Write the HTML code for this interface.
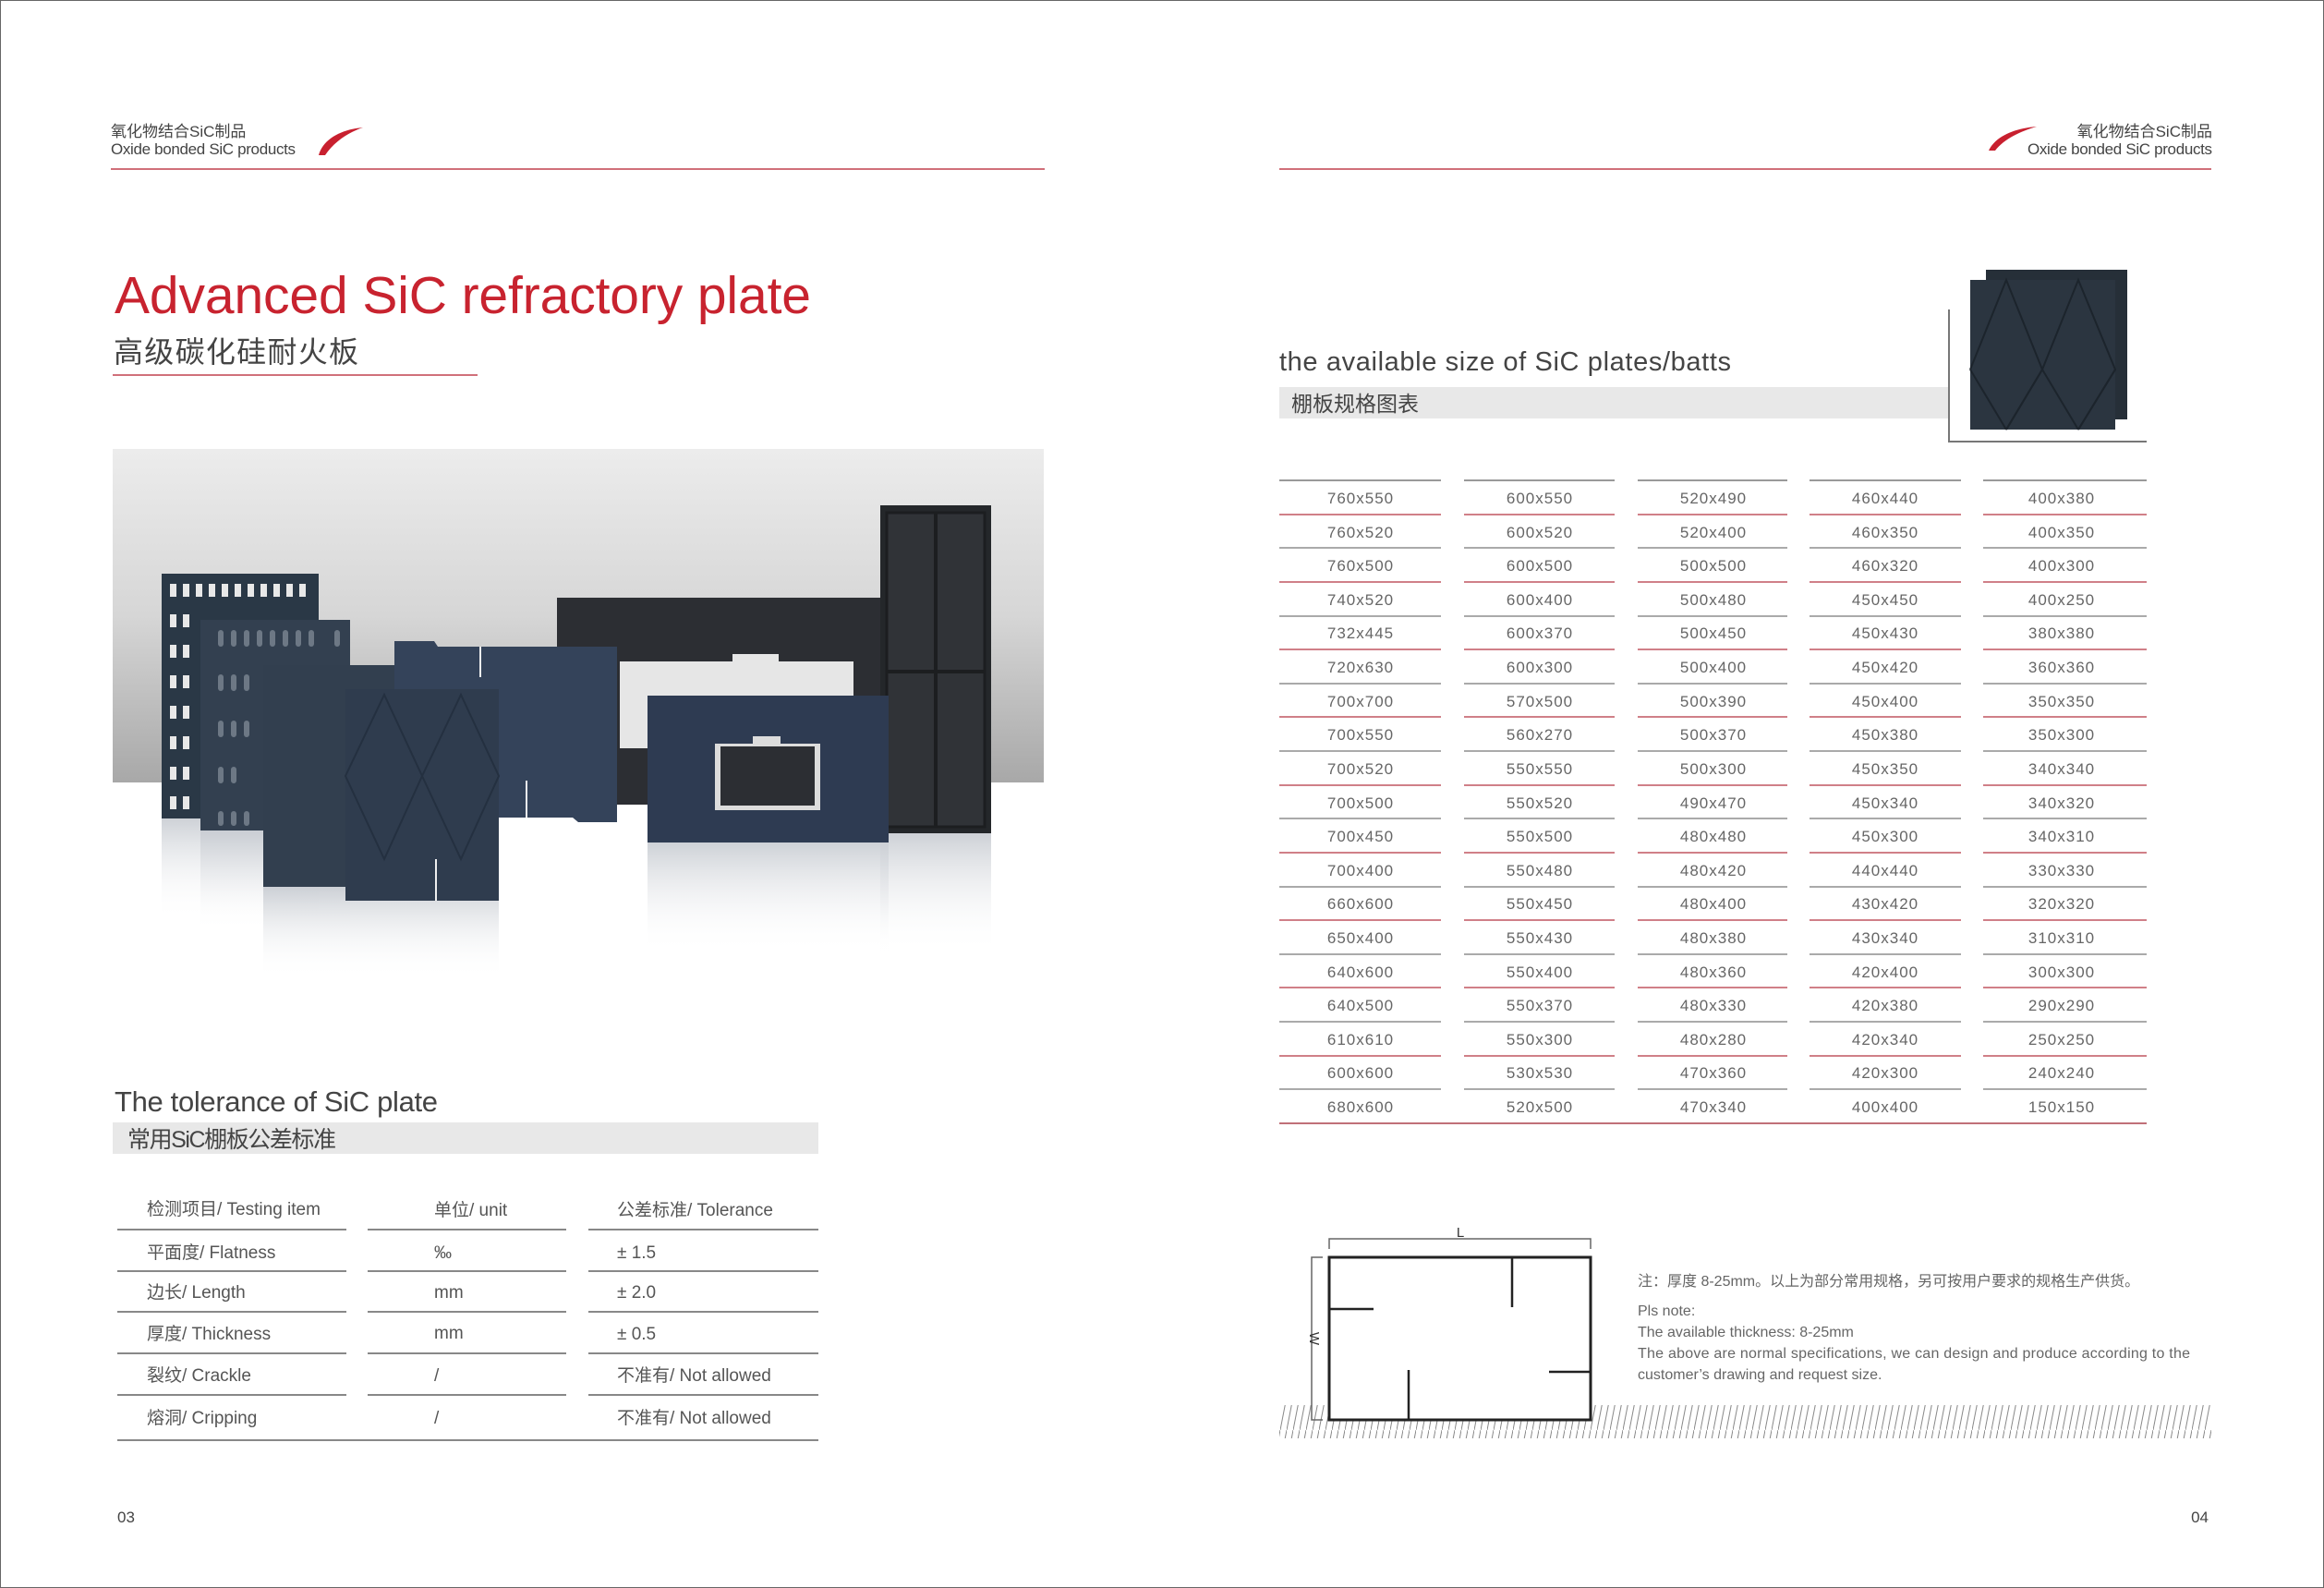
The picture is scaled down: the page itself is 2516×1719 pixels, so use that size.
<!DOCTYPE html>
<html><head><meta charset="utf-8"><style>
html,body{margin:0;padding:0;background:#fff}
svg{display:block}
text{font-family:"Liberation Sans","Noto Sans CJK SC",sans-serif}
</style></head><body>
<svg width="2516" height="1719" viewBox="0 0 2516 1719" xmlns="http://www.w3.org/2000/svg">
<defs>
<linearGradient id="band" x1="0" y1="0" x2="0" y2="1"><stop offset="0" stop-color="#ececec"/><stop offset="0.5" stop-color="#d6d6d6"/><stop offset="1" stop-color="#a8a8a8"/></linearGradient>
<linearGradient id="refl" x1="0" y1="0" x2="0" y2="1"><stop offset="0" stop-color="#c8ccd2" stop-opacity="0.9"/><stop offset="1" stop-color="#ffffff" stop-opacity="0"/></linearGradient>
<pattern id="hatch" width="7" height="36" patternUnits="userSpaceOnUse"><line x1="0" y1="36" x2="7" y2="0" stroke="#888" stroke-width="1"/></pattern>
</defs>
<rect x="0" y="0" width="2516" height="1719" fill="#fff" stroke="#666" stroke-width="2"/>

<!-- headers -->
<text x="120" y="148" font-size="17" fill="#444">氧化物结合SiC制品</text>
<text x="120" y="167" font-size="17" fill="#444" textLength="200">Oxide bonded SiC products</text>
<path d="M345,168 C350,150 370,140 393,138 C378,143 362,153 352,168 Z" fill="#c8202f"/>
<line x1="120" y1="183" x2="1131" y2="183" stroke="#d0707a" stroke-width="2"/>
<text x="2395" y="148" font-size="17" fill="#444" text-anchor="end">氧化物结合SiC制品</text>
<text x="2395" y="167" font-size="17" fill="#444" text-anchor="end" textLength="200">Oxide bonded SiC products</text>
<path d="M2153,163 C2160,148 2180,139 2205,137 C2188,142 2170,150 2160,163 Z" fill="#c8202f"/>
<line x1="1385" y1="183" x2="2394" y2="183" stroke="#d0707a" stroke-width="2"/>

<!-- title -->
<text x="124" y="339" font-size="57" fill="#c8232f" textLength="754">Advanced SiC refractory plate</text>
<text x="123" y="392" font-size="32" fill="#444" textLength="265">高级碳化硅耐火板</text>
<line x1="122" y1="406" x2="517" y2="406" stroke="#d0707a" stroke-width="2"/>

<!-- photo -->
<rect x="122" y="486" width="1008" height="361" fill="url(#band)"/>
<rect x="175" y="886" width="170" height="110" fill="url(#refl)"/>
<rect x="217" y="899" width="162" height="110" fill="url(#refl)"/>
<rect x="285" y="960" width="255" height="100" fill="url(#refl)"/>
<rect x="701" y="912" width="261" height="120" fill="url(#refl)"/>
<rect x="953" y="902" width="120" height="130" fill="url(#refl)"/>
<rect x="603" y="647" width="361" height="224" fill="#2c2e33"/>
<rect x="671" y="716" width="253" height="94" fill="#e6e6e6"/>
<rect x="793" y="708" width="50" height="10" fill="#e6e6e6"/>
<rect x="953" y="547" width="120" height="355" fill="#24272a"/>
<rect x="960" y="555" width="106" height="340" fill="#303337" stroke="#1c1e20" stroke-width="3"/>
<line x1="1013" y1="555" x2="1013" y2="895" stroke="#1c1e20" stroke-width="4"/>
<line x1="960" y1="727" x2="1066" y2="727" stroke="#1c1e20" stroke-width="4"/>
<rect x="175" y="621" width="170" height="265" fill="#2a3846"/>
<g fill="#e8e8e8">
<rect x="184" y="632" width="7" height="14"/><rect x="198" y="632" width="7" height="14"/><rect x="212" y="632" width="7" height="14"/><rect x="226" y="632" width="7" height="14"/><rect x="240" y="632" width="7" height="14"/><rect x="254" y="632" width="7" height="14"/><rect x="268" y="632" width="7" height="14"/><rect x="282" y="632" width="7" height="14"/><rect x="296" y="632" width="7" height="14"/><rect x="310" y="632" width="7" height="14"/><rect x="324" y="632" width="7" height="14"/>
<rect x="184" y="665" width="7" height="14"/><rect x="198" y="665" width="7" height="14"/>
<rect x="184" y="698" width="7" height="14"/><rect x="198" y="698" width="7" height="14"/>
<rect x="184" y="731" width="7" height="14"/><rect x="198" y="731" width="7" height="14"/>
<rect x="184" y="764" width="7" height="14"/><rect x="198" y="764" width="7" height="14"/>
<rect x="184" y="797" width="7" height="14"/><rect x="198" y="797" width="7" height="14"/>
<rect x="184" y="830" width="7" height="14"/><rect x="198" y="830" width="7" height="14"/>
<rect x="184" y="862" width="7" height="14"/><rect x="198" y="862" width="7" height="14"/>
</g>
<rect x="217" y="671" width="162" height="228" fill="#334050"/>
<g fill="#6d7885">
<rect x="236" y="682" width="6" height="18" rx="3"/><rect x="250" y="682" width="6" height="18" rx="3"/><rect x="264" y="682" width="6" height="18" rx="3"/><rect x="278" y="682" width="6" height="18" rx="3"/><rect x="292" y="682" width="6" height="18" rx="3"/><rect x="306" y="682" width="6" height="18" rx="3"/><rect x="320" y="682" width="6" height="18" rx="3"/><rect x="334" y="682" width="6" height="18" rx="3"/><rect x="362" y="682" width="6" height="18" rx="3"/>
<rect x="236" y="730" width="6" height="18" rx="3"/><rect x="250" y="730" width="6" height="18" rx="3"/><rect x="264" y="730" width="6" height="18" rx="3"/>
<rect x="236" y="780" width="6" height="18" rx="3"/><rect x="250" y="780" width="6" height="18" rx="3"/><rect x="264" y="780" width="6" height="18" rx="3"/>
<rect x="236" y="830" width="6" height="18" rx="3"/><rect x="250" y="830" width="6" height="18" rx="3"/>
<rect x="236" y="878" width="6" height="16" rx="3"/><rect x="250" y="878" width="6" height="16" rx="3"/><rect x="264" y="878" width="6" height="16" rx="3"/>
</g>
<path d="M427,694 L470,694 L474,700 L668,700 L668,890 L626,890 L620,885 L427,885 Z" fill="#34435a"/>
<line x1="520" y1="700" x2="520" y2="733" stroke="#eee" stroke-width="2"/>
<line x1="570" y1="845" x2="570" y2="885" stroke="#eee" stroke-width="2"/>
<rect x="285" y="720" width="142" height="240" fill="#323f4f"/>
<rect x="374" y="746" width="166" height="229" fill="#2f3c4e"/>
<g stroke="#243040" stroke-width="2" fill="none">
<path d="M374,840 L416,752 L457,840 L416,930 Z"/><path d="M457,840 L499,752 L540,840 L499,930 Z"/>
</g>
<line x1="472" y1="930" x2="472" y2="975" stroke="#eee" stroke-width="2"/>
<rect x="701" y="753" width="261" height="159" fill="#2e3b52"/>
<rect x="774" y="805" width="114" height="72" fill="#dcdcdc"/>
<rect x="780" y="808" width="102" height="64" fill="#2c2e33"/>
<rect x="815" y="797" width="30" height="9" fill="#dcdcdc"/>

<!-- tolerance -->
<text x="124" y="1203" font-size="31" fill="#444" textLength="350">The tolerance of SiC plate</text>
<rect x="122" y="1215" width="764" height="34" fill="#e8e8e8"/>
<text x="138" y="1242" font-size="25" fill="#444" textLength="226">常用SiC棚板公差标准</text>
<g font-size="19" fill="#555">
<text x="159" y="1315">检测项目/ Testing item</text><text x="470" y="1316">单位/ unit</text><text x="668" y="1316">公差标准/ Tolerance</text>
<text x="159" y="1362">平面度/ Flatness</text><text x="470" y="1362">‰</text><text x="668" y="1362">± 1.5</text>
<text x="159" y="1405">边长/ Length</text><text x="470" y="1405">mm</text><text x="668" y="1405">± 2.0</text>
<text x="159" y="1450">厚度/ Thickness</text><text x="470" y="1449">mm</text><text x="668" y="1450">± 0.5</text>
<text x="159" y="1495">裂纹/ Crackle</text><text x="470" y="1495">/</text><text x="668" y="1495">不准有/ Not allowed</text>
<text x="159" y="1541">熔洞/ Cripping</text><text x="470" y="1541">/</text><text x="668" y="1541">不准有/ Not allowed</text>
</g>
<g stroke="#888" stroke-width="2">
<path d="M127,1331H375M398,1331H613M637,1331H886"/>
<path d="M127,1376H375M398,1376H613M637,1376H886"/>
<path d="M127,1420H375M398,1420H613M637,1420H886"/>
<path d="M127,1465H375M398,1465H613M637,1465H886"/>
<path d="M127,1510H375M398,1510H613M637,1510H886"/>
<path d="M127,1559H886"/>
</g>
<text x="127" y="1648" font-size="17" fill="#444">03</text>
<text x="2391" y="1648" font-size="17" fill="#444" text-anchor="end">04</text>

<!-- right page -->
<text x="1385" y="401" font-size="29" fill="#444" textLength="489">the available size of SiC plates/batts</text>
<rect x="1385" y="419" width="725" height="34" fill="#e8e8e8"/>
<text x="1398" y="445" font-size="23" fill="#444" textLength="138">棚板规格图表</text>
<path d="M2110,335 V478 H2324" fill="none" stroke="#777" stroke-width="2"/>
<rect x="2150" y="292" width="153" height="162" fill="#262f38"/>
<rect x="2133" y="303" width="157" height="162" fill="#2b3540"/>
<g stroke="#1c242c" stroke-width="2" fill="none">
<path d="M2133,400 L2172,303 L2211,400 L2172,465"/><path d="M2211,400 L2250,303 L2290,400 L2250,465"/><path d="M2172,465 L2133,400"/><path d="M2250,465 L2211,400 L2172,465"/><path d="M2290,400 L2250,465"/>
</g>

<g font-size="17" fill="#666" text-anchor="middle" letter-spacing="1">
<text x="1473" y="545">760x550</text><text x="1667" y="545">600x550</text><text x="1855" y="545">520x490</text><text x="2041" y="545">460x440</text><text x="2232" y="545">400x380</text>
<text x="1473" y="582">760x520</text><text x="1667" y="582">600x520</text><text x="1855" y="582">520x400</text><text x="2041" y="582">460x350</text><text x="2232" y="582">400x350</text>
<text x="1473" y="618">760x500</text><text x="1667" y="618">600x500</text><text x="1855" y="618">500x500</text><text x="2041" y="618">460x320</text><text x="2232" y="618">400x300</text>
<text x="1473" y="655">740x520</text><text x="1667" y="655">600x400</text><text x="1855" y="655">500x480</text><text x="2041" y="655">450x450</text><text x="2232" y="655">400x250</text>
<text x="1473" y="691">732x445</text><text x="1667" y="691">600x370</text><text x="1855" y="691">500x450</text><text x="2041" y="691">450x430</text><text x="2232" y="691">380x380</text>
<text x="1473" y="728">720x630</text><text x="1667" y="728">600x300</text><text x="1855" y="728">500x400</text><text x="2041" y="728">450x420</text><text x="2232" y="728">360x360</text>
<text x="1473" y="765">700x700</text><text x="1667" y="765">570x500</text><text x="1855" y="765">500x390</text><text x="2041" y="765">450x400</text><text x="2232" y="765">350x350</text>
<text x="1473" y="801">700x550</text><text x="1667" y="801">560x270</text><text x="1855" y="801">500x370</text><text x="2041" y="801">450x380</text><text x="2232" y="801">350x300</text>
<text x="1473" y="838">700x520</text><text x="1667" y="838">550x550</text><text x="1855" y="838">500x300</text><text x="2041" y="838">450x350</text><text x="2232" y="838">340x340</text>
<text x="1473" y="875">700x500</text><text x="1667" y="875">550x520</text><text x="1855" y="875">490x470</text><text x="2041" y="875">450x340</text><text x="2232" y="875">340x320</text>
<text x="1473" y="911">700x450</text><text x="1667" y="911">550x500</text><text x="1855" y="911">480x480</text><text x="2041" y="911">450x300</text><text x="2232" y="911">340x310</text>
<text x="1473" y="948">700x400</text><text x="1667" y="948">550x480</text><text x="1855" y="948">480x420</text><text x="2041" y="948">440x440</text><text x="2232" y="948">330x330</text>
<text x="1473" y="984">660x600</text><text x="1667" y="984">550x450</text><text x="1855" y="984">480x400</text><text x="2041" y="984">430x420</text><text x="2232" y="984">320x320</text>
<text x="1473" y="1021">650x400</text><text x="1667" y="1021">550x430</text><text x="1855" y="1021">480x380</text><text x="2041" y="1021">430x340</text><text x="2232" y="1021">310x310</text>
<text x="1473" y="1058">640x600</text><text x="1667" y="1058">550x400</text><text x="1855" y="1058">480x360</text><text x="2041" y="1058">420x400</text><text x="2232" y="1058">300x300</text>
<text x="1473" y="1094">640x500</text><text x="1667" y="1094">550x370</text><text x="1855" y="1094">480x330</text><text x="2041" y="1094">420x380</text><text x="2232" y="1094">290x290</text>
<text x="1473" y="1131">610x610</text><text x="1667" y="1131">550x300</text><text x="1855" y="1131">480x280</text><text x="2041" y="1131">420x340</text><text x="2232" y="1131">250x250</text>
<text x="1473" y="1167">600x600</text><text x="1667" y="1167">530x530</text><text x="1855" y="1167">470x360</text><text x="2041" y="1167">420x300</text><text x="2232" y="1167">240x240</text>
<text x="1473" y="1204">680x600</text><text x="1667" y="1204">520x500</text><text x="1855" y="1204">470x340</text><text x="2041" y="1204">400x400</text><text x="2232" y="1204">150x150</text>
</g>
<g stroke-width="2" fill="none">
<path stroke="#999" d="M1385,520H1560M1585,520H1748M1773,520H1935M1959,520H2123M2147,520H2324"/>
<path stroke="#d08088" d="M1385,557H1560M1585,557H1748M1773,557H1935M1959,557H2123M2147,557H2324"/>
<path stroke="#aaa" d="M1385,593H1560M1585,593H1748M1773,593H1935M1959,593H2123M2147,593H2324"/>
<path stroke="#d08088" d="M1385,630H1560M1585,630H1748M1773,630H1935M1959,630H2123M2147,630H2324"/>
<path stroke="#aaa" d="M1385,667H1560M1585,667H1748M1773,667H1935M1959,667H2123M2147,667H2324"/>
<path stroke="#d08088" d="M1385,703H1560M1585,703H1748M1773,703H1935M1959,703H2123M2147,703H2324"/>
<path stroke="#aaa" d="M1385,740H1560M1585,740H1748M1773,740H1935M1959,740H2123M2147,740H2324"/>
<path stroke="#d08088" d="M1385,776H1560M1585,776H1748M1773,776H1935M1959,776H2123M2147,776H2324"/>
<path stroke="#aaa" d="M1385,813H1560M1585,813H1748M1773,813H1935M1959,813H2123M2147,813H2324"/>
<path stroke="#d08088" d="M1385,850H1560M1585,850H1748M1773,850H1935M1959,850H2123M2147,850H2324"/>
<path stroke="#aaa" d="M1385,886H1560M1585,886H1748M1773,886H1935M1959,886H2123M2147,886H2324"/>
<path stroke="#d08088" d="M1385,923H1560M1585,923H1748M1773,923H1935M1959,923H2123M2147,923H2324"/>
<path stroke="#aaa" d="M1385,960H1560M1585,960H1748M1773,960H1935M1959,960H2123M2147,960H2324"/>
<path stroke="#d08088" d="M1385,996H1560M1585,996H1748M1773,996H1935M1959,996H2123M2147,996H2324"/>
<path stroke="#aaa" d="M1385,1033H1560M1585,1033H1748M1773,1033H1935M1959,1033H2123M2147,1033H2324"/>
<path stroke="#d08088" d="M1385,1069H1560M1585,1069H1748M1773,1069H1935M1959,1069H2123M2147,1069H2324"/>
<path stroke="#aaa" d="M1385,1106H1560M1585,1106H1748M1773,1106H1935M1959,1106H2123M2147,1106H2324"/>
<path stroke="#d08088" d="M1385,1143H1560M1585,1143H1748M1773,1143H1935M1959,1143H2123M2147,1143H2324"/>
<path stroke="#aaa" d="M1385,1179H1560M1585,1179H1748M1773,1179H1935M1959,1179H2123M2147,1179H2324"/>
<path stroke="#c07078" d="M1385,1216H2324"/>
</g>

<!-- diagram -->
<rect x="1385" y="1521" width="1009" height="36" fill="url(#hatch)"/>
<rect x="1439" y="1361" width="283" height="176" fill="#fff" stroke="#222" stroke-width="3"/>
<path d="M1439,1352V1341H1722V1352" fill="none" stroke="#666" stroke-width="1.5"/>
<text x="1581" y="1339" font-size="15" fill="#333" text-anchor="middle">L</text>
<path d="M1432,1361H1420V1537H1432" fill="none" stroke="#666" stroke-width="1.5"/>
<text x="0" y="0" font-size="15" fill="#333" text-anchor="middle" transform="translate(1418,1449) rotate(90)">W</text>
<g stroke="#222" stroke-width="2.5">
<line x1="1637" y1="1361" x2="1637" y2="1415"/>
<line x1="1439" y1="1417" x2="1487" y2="1417"/>
<line x1="1525" y1="1483" x2="1525" y2="1537"/>
<line x1="1677" y1="1485" x2="1722" y2="1485"/>
</g>
<g font-size="16" fill="#666">
<text x="1773" y="1392">注：厚度 8-25mm。以上为部分常用规格，另可按用户要求的规格生产供货。</text>
<text x="1773" y="1424">Pls note:</text>
<text x="1773" y="1447">The available thickness: 8-25mm</text>
<text x="1773" y="1470" textLength="598">The above are normal specifications, we can design and produce according to the</text>
<text x="1773" y="1493">customer’s drawing and request size.</text>
</g>
</svg>
</body></html>
